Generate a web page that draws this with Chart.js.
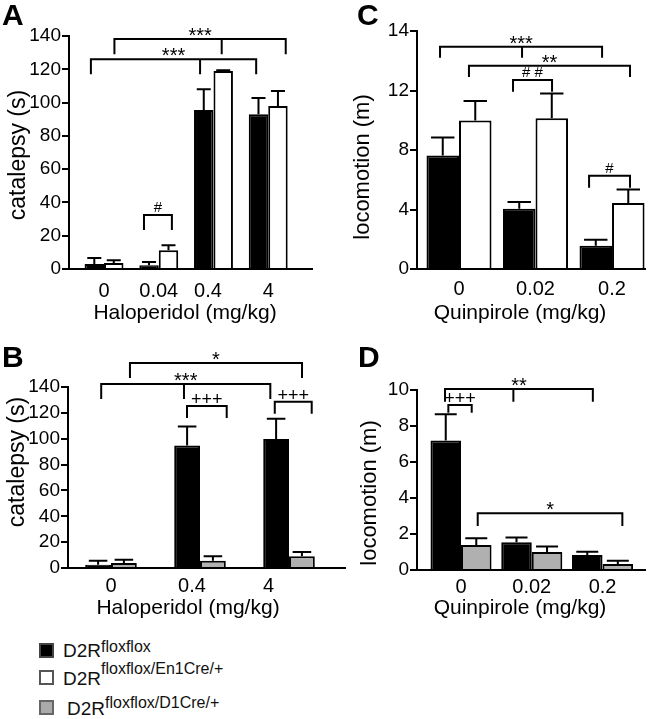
<!DOCTYPE html>
<html>
<head>
<meta charset="utf-8">
<script src="https://cdn.jsdelivr.net/npm/chart.js@4.4.1/dist/chart.umd.min.js"></script>
<style>
  body { margin: 0; background: #fff; font-family: "Liberation Sans", Arial, Helvetica, sans-serif; }
  #wrap { position: relative; width: 653px; height: 719px; overflow: hidden; }
  canvas { position: absolute; }
  .sw { position: absolute; left: 39px; width: 11px; height: 11px; border: 2px solid #444; }
  .lab { position: absolute; font-size: 19px; line-height: 19px; color: #111; white-space: nowrap; }
  .lab span { font-size: 16px; position: relative; }
</style>
</head>
<body>
<div id="wrap">
  <canvas id="panelA" width="340" height="330" style="left:0;top:0"></canvas>
  <canvas id="panelC" width="323" height="330" style="left:330px;top:0"></canvas>
  <canvas id="panelB" width="350" height="290" style="left:0;top:330px"></canvas>
  <canvas id="panelD" width="323" height="290" style="left:330px;top:330px"></canvas>

  <div class="sw" style="top:643px;background:#000"></div>
  <div class="lab" style="left:63px;top:641px">D2R<span style="top:-5px">floxflox</span></div>
  <div class="sw" style="top:670px;background:#fff;border-color:#555"></div>
  <div class="lab" style="left:63px;top:669px">D2R<span style="top:-11px">floxflox/En1Cre/+</span></div>
  <div class="sw" style="top:700px;background:#aaa;border-color:#666"></div>
  <div class="lab" style="left:67px;top:699px">D2R<span style="top:-7px">floxflox/D1Cre/+</span></div>
</div>
<script>
// categories (doses)
const haloDosesA = ['0', '0.04', '0.4', '4'];
const haloDosesB = ['0', '0.4', '4'];
const quinDoses = ['0', '0.02', '0.2'];
// where the dose labels sit along the x axis (group index units)
const haloTickPosA = [0, 1, 1.9, 3];
const haloTickPosB = [0, 0.91, 1.77];
const quinTickPos = [0, 1, 2];

// y ticks
const catTicks = [0, 20, 40, 60, 80, 100, 120, 140];
const catTickLabels = ['0', '20', '40', '60', '80', '100', '120', '140'];
const locTicksC = [0, 4, 8, 12, 16];
const locTickLabelsC = ['0', '4', '8', '12', '14'];
const locTicksD = [0, 2, 4, 6, 8, 10];
const locTickLabelsD = ['0', '2', '4', '6', '8', '10'];

// A: catalepsy (s), haloperidol
const catFloxA = [3, 2.2, 95.5, 93];
const catFloxSemA = [3.6, 2.0, 12.5, 9.7];
const catEn1A = [3.6, 11.2, 119, 98];
const catEn1SemA = [1.6, 3.0, 0.4, 9];

// B: catalepsy (s), haloperidol
const catFloxB = [2.6, 94.8, 99.7];
const catFloxSemB = [3.1, 14.7, 15.8];
const catD1B = [3.9, 5.7, 9];
const catD1SemB = [2.5, 3.3, 3.4];

// C: locomotion (m), quinpirole
const locFloxC = [7.63, 4.05, 1.57];
const locFloxSemC = [1.21, 0.45, 0.4];
const locEn1C = [9.98, 10.13, 4.43];
const locEn1SemC = [1.32, 1.67, 0.92];

// D: locomotion (m), quinpirole
const locFloxD = [7.19, 1.54, 0.83];
const locFloxSemD = [1.46, 0.27, 0.19];
const locD1D = [1.39, 1.0, 0.33];
const locD1SemD = [0.37, 0.3, 0.18];

// significance brackets (x in group units, y in axis units)
const sigA = [
  { x: [0.19, 2.15, 3.32], y: 138.2, drop: 129.6, text: '***' },
  { x: [-0.24, 1.755, 2.78], y: 126, drop: 117.6, text: '***' },
  { x: [0.73, 1.24], y: 32.5, drop: 24, text: '#' }
];
const sigB = [
  { x: [0.213, 2.146], y: 158.5, drop: 147.7, text: '*' },
  { x: [-0.11, 0.82, 1.79], y: 142.3, drop: 131.5, text: '***' },
  { x: [0.854, 1.30], y: 125.3, drop: 116.8, text: '+++' },
  { x: [1.84, 2.255], y: 128.6, drop: 120.1, text: '+++' }
];
const sigC = [
  { x: [-0.248, 0.824, 1.87], y: 14.94, drop: 14.27, text: '***' },
  { x: [0.13, 2.235], y: 13.67, drop: 12.97, text: '**' },
  { x: [0.706, 1.216], y: 12.7, drop: 11.99, text: '# #' },
  { x: [1.70, 2.235], y: 6.27, drop: 5.53, text: '#' }
];
const sigD = [
  { x: [-0.226, 0.74, 1.863], y: 10.06, drop: 9.4, text: '**' },
  { x: [-0.179, 0.151], y: 9.17, drop: 8.79, text: '+++' },
  { x: [0.236, 2.28], y: 3.15, drop: 2.5, text: '*' }
];

const FONT = '"Liberation Sans", Arial, Helvetica, sans-serif';
Chart.defaults.font.family = FONT;
Chart.defaults.color = '#000';

// upward SEM whiskers on every bar
const errorBars = {
  id: 'errorBars',
  afterDatasetsDraw(chart) {
    const ctx = chart.ctx;
    const y = chart.scales.y;
    ctx.save();
    ctx.strokeStyle = '#000';
    ctx.lineWidth = 2;
    chart.data.datasets.forEach((ds, i) => {
      chart.getDatasetMeta(i).data.forEach((bar, j) => {
        const top = y.getPixelForValue(ds.data[j].y + ds.sem[j]);
        const half = bar.width * 0.36;
        ctx.beginPath();
        ctx.moveTo(bar.x, bar.y);
        ctx.lineTo(bar.x, top);
        ctx.moveTo(bar.x - half, top);
        ctx.lineTo(bar.x + half, top);
        ctx.stroke();
      });
    });
    ctx.restore();
  }
};

function sigFont(t) {
  if (t.includes('*')) return '20px ' + FONT;
  if (t.includes('+')) return '18px ' + FONT;
  return '15px ' + FONT;
}

function bracketPlugin(list) {
  return {
    id: 'brackets',
    afterDraw(chart) {
      const ctx = chart.ctx, xs = chart.scales.x, ys = chart.scales.y;
      ctx.save();
      ctx.strokeStyle = '#000';
      ctx.fillStyle = '#000';
      ctx.lineWidth = 2;
      ctx.lineCap = 'square';
      list.forEach(b => {
        const px = b.x.map(v => xs.getPixelForValue(v));
        const py = ys.getPixelForValue(b.y);
        const pd = ys.getPixelForValue(b.drop);
        const x0 = Math.min(...px), x1 = Math.max(...px);
        ctx.beginPath();
        ctx.moveTo(x0, py);
        ctx.lineTo(x1, py);
        px.forEach(p => { ctx.moveTo(p, py); ctx.lineTo(p, pd); });
        ctx.stroke();
        ctx.font = sigFont(b.text);
        ctx.textAlign = 'center';
        ctx.textBaseline = 'alphabetic';
        const m = ctx.measureText(b.text);
        ctx.fillText(b.text, (x0 + x1) / 2, py - 3 - m.actualBoundingBoxDescent);
      });
      ctx.restore();
    }
  };
}

// panel letter and axis titles
function textPlugin(t) {
  return {
    id: 'panelText',
    afterDraw(chart) {
      const ctx = chart.ctx;
      ctx.save();
      ctx.fillStyle = '#000';
      ctx.font = 'bold 30px ' + FONT;
      ctx.textAlign = 'left';
      ctx.textBaseline = 'alphabetic';
      ctx.fillText(t.letter, t.letterAt[0], t.letterAt[1]);
      ctx.font = '21px ' + FONT;
      ctx.textAlign = 'center';
      ctx.textBaseline = 'middle';
      ctx.fillText(t.xTitle, t.xTitleAt[0], t.xTitleAt[1]);
      ctx.translate(t.yTitleAt[0], t.yTitleAt[1]);
      ctx.rotate(-Math.PI / 2);
      ctx.font = t.ySize + 'px ' + FONT;
      ctx.fillText(t.yTitle, 0, 0);
      ctx.restore();
    }
  };
}

function makePanel(id, p) {
  new Chart(document.getElementById(id), {
    type: 'bar',
    data: {
      datasets: p.series.map(s => ({
        data: s.values.map((v, i) => ({ x: i, y: v })),
        sem: s.sem,
        backgroundColor: s.color,
        borderColor: '#000',
        borderWidth: 2,
        borderSkipped: 'start',
        categoryPercentage: p.catPct,
        barPercentage: 1
      }))
    },
    options: {
      responsive: false,
      animation: false,
      devicePixelRatio: 1,
      layout: { padding: p.pad },
      plugins: { legend: { display: false }, tooltip: { enabled: false } },
      scales: {
        x: {
          type: 'linear',
          min: p.xMin,
          max: p.xMax,
          offset: false,
          afterBuildTicks: s => { s.ticks = p.xTicks.map(v => ({ value: v })); },
          afterFit: s => { s.height = p.xHeight; },
          ticks: {
            callback: (v, i) => p.xLabels[i],
            autoSkip: false,
            maxRotation: 0,
            padding: p.xPad,
            font: { size: 20 },
            color: '#000'
          },
          grid: { drawOnChartArea: false, drawTicks: false, offset: false },
          border: { color: '#000', width: 2 }
        },
        y: {
          min: 0,
          max: p.yMax,
          afterBuildTicks: s => { s.ticks = p.yTicks.map(v => ({ value: v })); },
          afterFit: s => { s.width = p.yWidth; },
          ticks: {
            callback: (v, i) => p.yLabels[i],
            padding: 1,
            font: { size: 19 },
            color: '#000'
          },
          grid: { drawOnChartArea: false, drawTicks: true, tickLength: 7, color: '#000', lineWidth: 2 },
          border: { color: '#000', width: 2 }
        }
      }
    },
    plugins: [errorBars, bracketPlugin(p.sig), textPlugin(p.text)]
  });
}

makePanel('panelA', {
  series: [
    { values: catFloxA, sem: catFloxSemA, color: '#000' },
    { values: catEn1A, sem: catEn1SemA, color: '#fff' }
  ],
  xLabels: haloDosesA, xTicks: haloTickPosA, yTicks: catTicks, yLabels: catTickLabels,
  yMax: 140, xMin: -0.64, xMax: 3.80, catPct: 0.79,
  pad: { top: 36, left: 0, right: 28, bottom: 0 }, yWidth: 69, xHeight: 61, xPad: 10,
  sig: sigA,
  text: { letter: 'A', letterAt: [2, 25], xTitle: 'Haloperidol (mg/kg)', xTitleAt: [185, 313],
          yTitle: 'catalepsy (s)', yTitleAt: [19, 155], ySize: 23 }
});

makePanel('panelB', {
  series: [
    { values: catFloxB, sem: catFloxSemB, color: '#000' },
    { values: catD1B, sem: catD1SemB, color: '#b0b0b0' }
  ],
  xLabels: haloDosesB, xTicks: haloTickPosB, yTicks: catTicks, yLabels: catTickLabels,
  yMax: 140, xMin: -0.483, xMax: 2.629, catPct: 0.674,
  pad: { top: 57, left: 0, right: 5, bottom: 0 }, yWidth: 68, xHeight: 52, xPad: 6,
  sig: sigB,
  text: { letter: 'B', letterAt: [2, 37], xTitle: 'Haloperidol (mg/kg)', xTitleAt: [188, 278],
          yTitle: 'catalepsy (s)', yTitleAt: [18, 132], ySize: 23 }
});

makePanel('panelC', {
  series: [
    { values: locFloxC, sem: locFloxSemC, color: '#000' },
    { values: locEn1C, sem: locEn1SemC, color: '#fff' }
  ],
  xLabels: quinDoses, xTicks: quinTickPos, yTicks: locTicksC, yLabels: locTickLabelsC,
  yMax: 16, xMin: -0.549, xMax: 2.431, catPct: 0.85,
  pad: { top: 31, left: 0, right: 8, bottom: 0 }, yWidth: 87, xHeight: 61, xPad: 8,
  sig: sigC,
  text: { letter: 'C', letterAt: [27, 25], xTitle: 'Quinpirole (mg/kg)', xTitleAt: [190, 313],
          yTitle: 'locomotion (m)', yTitleAt: [33, 167], ySize: 22 }
});

makePanel('panelD', {
  series: [
    { values: locFloxD, sem: locFloxSemD, color: '#000' },
    { values: locD1D, sem: locD1SemD, color: '#b0b0b0' }
  ],
  xLabels: quinDoses, xTicks: quinTickPos, yTicks: locTicksD, yLabels: locTickLabelsD,
  yMax: 10, xMin: -0.622, xMax: 2.60, catPct: 0.863,
  pad: { top: 60, left: 0, right: 8, bottom: 0 }, yWidth: 87, xHeight: 50, xPad: 5,
  sig: sigD,
  text: { letter: 'D', letterAt: [28, 37], xTitle: 'Quinpirole (mg/kg)', xTitleAt: [190, 278],
          yTitle: 'locomotion (m)', yTitleAt: [40, 163], ySize: 22 }
});
</script>
</body>
</html>
